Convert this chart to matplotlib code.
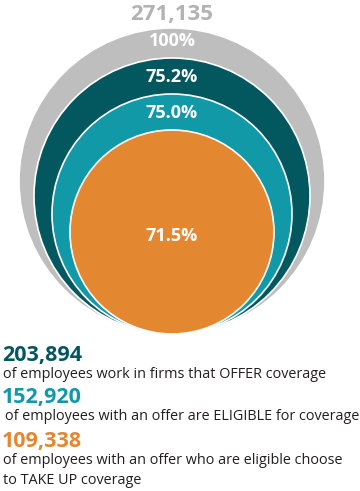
import matplotlib.pyplot as plt
from matplotlib.patches import Circle

# employee counts at each stage
total = 271135
counts = [203894, 152920, 109338]
stage_pct = ["100%", "75.2%", "75.0%", "71.5%"]
descriptions = [
    ["of employees work in firms that OFFER coverage"],
    ["of employees with an offer are ELIGIBLE for coverage"],
    ["of employees with an offer who are eligible choose", "to TAKE UP coverage"],
]

colors = ["#bebebe", "#03575f", "#1199a8", "#e38731"]
radii = [153, 138, 120, 102]       # circle sizes in pixels
pct_y = [41, 77, 113, 236]         # label heights in pixels
base_x, base_y = 172, 334          # circles all touch at the bottom

plt.rcParams['font.family'] = ['Open Sans', 'DejaVu Sans']

fig = plt.figure(figsize=(3.6, 4.91), dpi=100)
ax = fig.add_axes([0, 0, 1, 1])
ax.set_xlim(0, 360)
ax.set_ylim(491, 0)
ax.set_aspect('equal')
ax.axis('off')

for r, c in zip(radii, colors):
    ax.add_patch(Circle((base_x, base_y - r), r, facecolor=c,
                        edgecolor='white', linewidth=1.2))

for lab, y in zip(stage_pct, pct_y):
    ax.text(base_x, y, lab, color='white', fontsize=13, fontweight='bold',
            ha='center', va='center')

ax.text(base_x, 14, f"{total:,}", color='#b3b3b3', fontsize=16,
        fontweight='bold', ha='center', va='center')

num_y = [355, 398, 441]
desc_y = [374, 417, 461]
desc_x = [3, 5, 3]
for n, lines, c, ny, dy, dx in zip(counts, descriptions, colors[1:], num_y, desc_y, desc_x):
    ax.text(2, ny, f"{n:,}", color=c, fontsize=15.5, fontweight='bold',
            ha='left', va='center')
    for i, line in enumerate(lines):
        ax.text(dx, dy + 20 * i, line, color='#231f20', fontsize=10.4,
                ha='left', va='center')

fig.savefig('out.png', dpi=100)
